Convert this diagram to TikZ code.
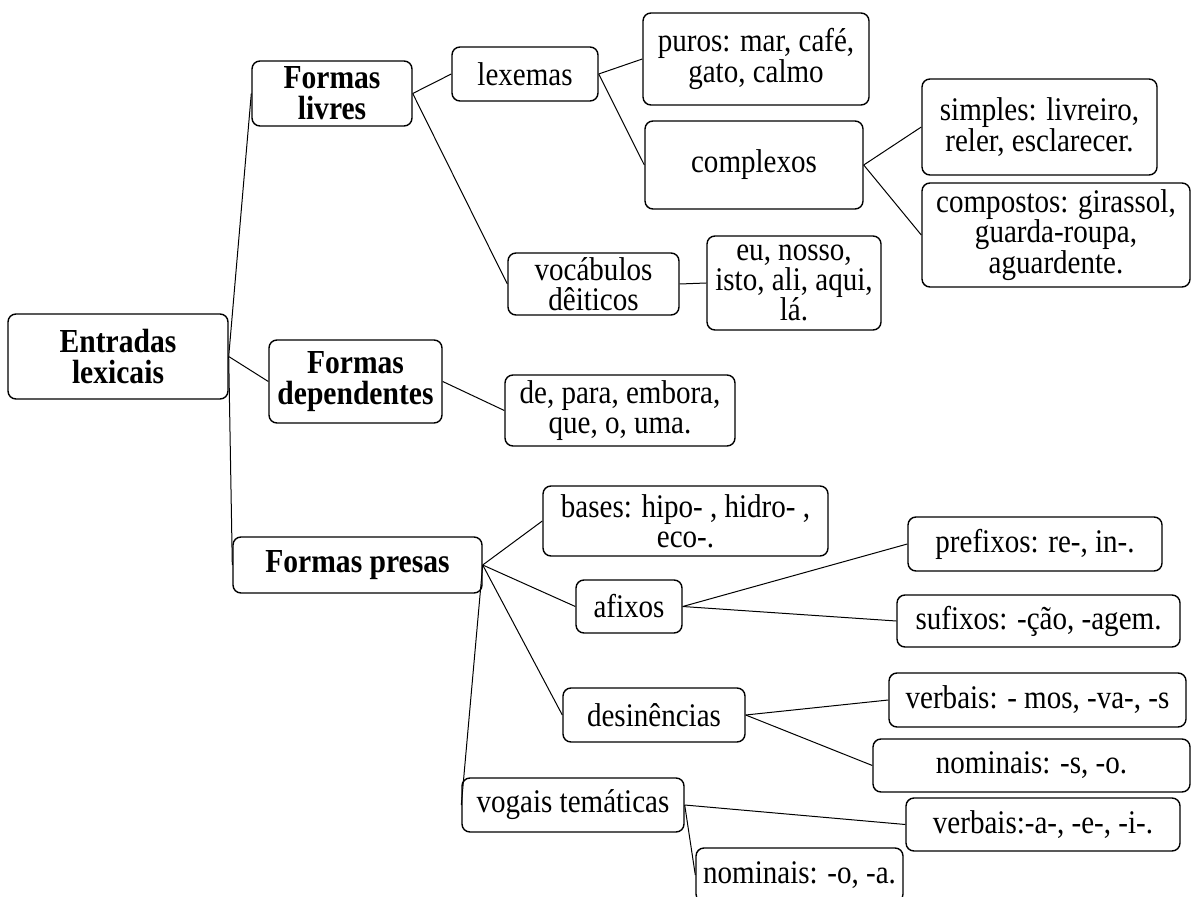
\documentclass[tikz,border=0pt]{standalone}
\usepackage{fontspec}
\setmainfont{Liberation Serif}[FakeStretch=0.88]
\begin{document}
\begin{tikzpicture}[x=0.5pt,y=-0.5pt,
  bx/.style={draw, rounded corners=4pt, line width=0.7pt, inner sep=0pt, align=center,
    font=\fontsize{16.5}{15.2}\selectfont},
  bxb/.style={bx, font=\fontsize{16.8}{15.5}\selectfont\bfseries},
  lk/.style={line width=0.5pt}]
\useasboundingbox (0,0) rectangle (1192,897);
% level 0
\node[bxb, minimum width=110pt, minimum height=42.5pt] (E) at (118,356.5) {Entradas\\lexicais};
% level 1
\node[bxb, minimum width=80pt, minimum height=32.5pt] (FL) at (332,93.5) {Formas\\livres};
\node[bxb, minimum width=86.5pt, minimum height=41.5pt] (FD) at (355.5,381.5) {Formas\\dependentes};
\node[bxb, minimum width=124.5pt, minimum height=28pt] (FP) at (357.5,565) {Formas presas};
% formas livres
\node[bx, minimum width=73pt, minimum height=27pt] (lex) at (525,74) {lexemas};
\node[bx, minimum width=113pt, minimum height=46pt] (pur) at (756,59) {puros: mar, café,\\gato, calmo};
\node[bx, minimum width=109pt, minimum height=44pt] (com) at (754,165) {complexos};
\node[bx, minimum width=117.5pt, minimum height=48pt] (sim) at (1039.5,127) {simples: livreiro,\\reler, esclarecer.};
\node[bx, minimum width=134pt, minimum height=52pt] (cmp) at (1056,235) {compostos: girassol,\\guarda-roupa,\\aguardente.};
\node[bx, minimum width=85.5pt, minimum height=31pt] (voc) at (593.5,284) {vocábulos\\dêiticos};
\node[bx, minimum width=87pt, minimum height=47pt] (eu) at (794,283) {eu, nosso,\\isto, ali, aqui,\\lá.};
% formas dependentes
\node[bx, minimum width=115pt, minimum height=35.5pt] (dpa) at (620,410.5) {de, para, embora,\\que, o, uma.};
% formas presas
\node[bx, minimum width=142.5pt, minimum height=35pt] (bas) at (685.5,521) {bases: hipo- , hidro- ,\\eco-.};
\node[bx, minimum width=53pt, minimum height=26.5pt] (afi) at (629,606.5) {afixos};
\node[bx, minimum width=127pt, minimum height=27pt] (pre) at (1035,544) {prefixos: re-, in-.};
\node[bx, minimum width=141.5pt, minimum height=26pt] (suf) at (1038.5,621) {sufixos: -ção, -agem.};
\node[bx, minimum width=91pt, minimum height=27pt] (des) at (654,715) {desinências};
\node[bx, minimum width=148.5pt, minimum height=27pt] (vbm) at (1037.5,700) {verbais: - mos, -va-, -s};
\node[bx, minimum width=158.5pt, minimum height=26.5pt] (nms) at (1031.5,765.5) {nominais: -s, -o.};
\node[bx, minimum width=111pt, minimum height=27pt] (vog) at (573,805) {vogais temáticas};
\node[bx, minimum width=137pt, minimum height=26.5pt] (vba) at (1043,824.5) {verbais:-a-, -e-, -i-.};
\node[bx, minimum width=103.5pt, minimum height=27pt] (nmo) at (799.5,875) {nominais: -o, -a.};
% connectors
\draw[lk] (E.east) -- (FL.west);
\draw[lk] (E.east) -- (FD.west);
\draw[lk] (E.east) -- (FP.west);
\draw[lk] (FL.east) -- (lex.west);
\draw[lk] (FL.east) -- (voc.west);
\draw[lk] (lex.east) -- (pur.west);
\draw[lk] (lex.east) -- (com.west);
\draw[lk] (com.east) -- (sim.west);
\draw[lk] (com.east) -- (cmp.west);
\draw[lk] (voc.east) -- (eu.west);
\draw[lk] (FD.east) -- (dpa.west);
\draw[lk] (FP.east) -- (bas.west);
\draw[lk] (FP.east) -- (afi.west);
\draw[lk] (FP.east) -- (des.west);
\draw[lk] (FP.east) -- (vog.west);
\draw[lk] (afi.east) -- (pre.west);
\draw[lk] (afi.east) -- (suf.west);
\draw[lk] (des.east) -- (vbm.west);
\draw[lk] (des.east) -- (nms.west);
\draw[lk] (vog.east) -- (vba.west);
\draw[lk] (vog.east) -- (nmo.west);
\end{tikzpicture}
\end{document}
